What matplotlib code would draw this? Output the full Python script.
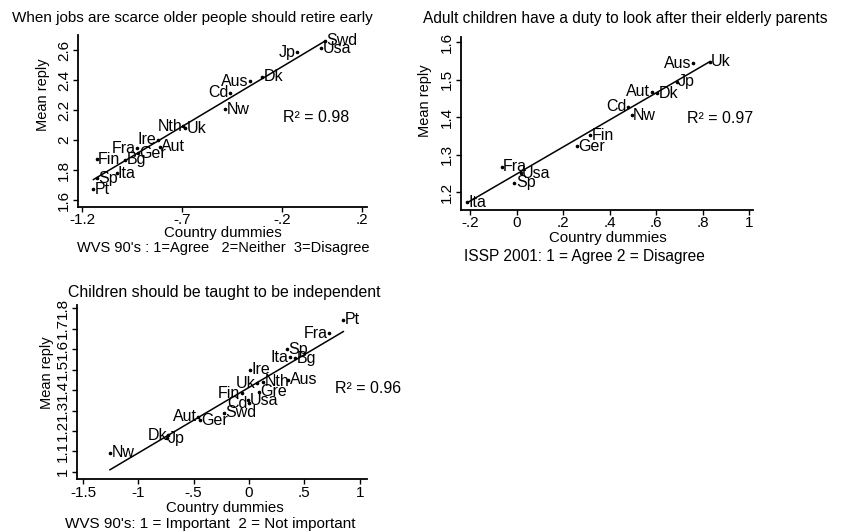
import numpy as np
import matplotlib
matplotlib.use("Agg")
import matplotlib.pyplot as plt

plt.rcParams['font.family'] = ['Liberation Sans', 'DejaVu Sans']

# Panel 1: WVS 90's, retire early
p1_names = ['Swd', 'Usa', 'Jp', 'Dk', 'Aus', 'Cd', 'Nw', 'Nth', 'Uk', 'Ire',
            'Aut', 'Ger', 'Fra', 'Fin', 'Bg', 'Ita', 'Sp', 'Pt']
p1_x = [0.015, -0.005, -0.127, -0.30, -0.36, -0.46, -0.485, -0.693, -0.683, -0.82,
        -0.81, -0.92, -0.925, -1.127, -0.985, -1.027, -1.127, -1.143]
p1_y = [2.66, 2.61, 2.585, 2.42, 2.39, 2.315, 2.205, 2.093, 2.078, 2.0,
        1.955, 1.91, 1.945, 1.871, 1.867, 1.778, 1.745, 1.671]
p1_left = {'Jp', 'Aus', 'Cd', 'Nth', 'Ire', 'Fra'}

# Panel 2: ISSP 2001, duty to parents
p2_names = ['Uk', 'Aus', 'Jp', 'Dk', 'Aut', 'Cd', 'Nw', 'Fin', 'Ger', 'Fra',
            'Usa', 'Sp', 'Ita']
p2_x = [0.831, 0.757, 0.688, 0.605, 0.58, 0.48, 0.495, 0.315, 0.258, -0.065,
        0.017, -0.01, -0.212]
p2_y = [1.548, 1.544, 1.495, 1.464, 1.468, 1.428, 1.406, 1.352, 1.323, 1.268,
        1.251, 1.226, 1.173]
p2_left = {'Aus', 'Aut', 'Cd'}

# Panel 3: WVS 90's, independence
p3_names = ['Pt', 'Fra', 'Sp', 'Ita', 'Bg', 'Ire', 'Uk', 'Nth', 'Aus', 'Fin',
            'Gre', 'Cd', 'Usa', 'Aut', 'Ger', 'Swd', 'Dk', 'Jp', 'Nw']
p3_x = [0.852, 0.725, 0.346, 0.37, 0.416, 0.009, 0.07, 0.13, 0.355, -0.066,
        0.093, 0.003, -0.006, -0.458, -0.443, -0.226, -0.729, -0.743, -1.256]
p3_y = [1.744, 1.678, 1.60, 1.561, 1.556, 1.499, 1.433, 1.441, 1.45, 1.384,
        1.392, 1.335, 1.35, 1.27, 1.253, 1.289, 1.18, 1.164, 1.093]
p3_left = {'Fra', 'Ita', 'Uk', 'Fin', 'Cd', 'Aut', 'Dk'}

W, H = 846, 532


def px(x, y):
    return x / W, 1 - y / H


def add_panel(rect, names, xs, ys, left, xlim, ylim, xticks, xlabels,
              yticks, ylabels, r2, r2_pos):
    l, t, r, b = rect
    ax = fig.add_axes([l / W, 1 - b / H, (r - l) / W, (b - t) / H])
    for s in ['top', 'right']:
        ax.spines[s].set_visible(False)
    for s in ['left', 'bottom']:
        ax.spines[s].set_linewidth(1.3)
    ax.set_xlim(*xlim)
    ax.set_ylim(*ylim)
    ax.set_xticks(xticks, xlabels)
    ax.set_yticks(yticks, ylabels)
    ax.tick_params(length=3.5, width=1, labelsize=11, pad=1)
    ax.tick_params(axis='y', labelrotation=90, pad=1.5)
    for lab in ax.get_yticklabels():
        lab.set_va('center')

    xs = np.array(xs)
    ys = np.array(ys)
    ax.plot(xs, ys, 'o', ms=1.6, color='black', clip_on=False)
    # least squares fit line over the data range
    k, c = np.polyfit(xs, ys, 1)
    fx = np.array([xs.min(), xs.max()])
    ax.plot(fx, k * fx + c, color='black', lw=1.1)

    for n, x, y in zip(names, xs, ys):
        if n in left:
            ax.annotate(n, (x, y), xytext=(-1, 0), textcoords='offset points',
                        ha='right', va='center', fontsize=11.5)
        else:
            ax.annotate(n, (x, y), xytext=(1, 0), textcoords='offset points',
                        ha='left', va='center', fontsize=11.5)
    ax.text(r2_pos[0], r2_pos[1], r2, fontsize=11.5, ha='left', va='center',
            clip_on=False)
    return ax


fig = plt.figure(figsize=(W / 100, H / 100), dpi=100)

add_panel((78, 35, 367, 207), p1_names, p1_x, p1_y, p1_left,
          (-1.22, 0.225), (1.553, 2.7),
          [-1.2, -0.7, -0.2, 0.2], ['-1.2', '-.7', '-.2', '.2'],
          [1.6, 1.8, 2.0, 2.2, 2.4, 2.6], ['1.6', '1.8', '2', '2.2', '2.4', '2.6'],
          'R² = 0.98', (-0.195, 2.147))

add_panel((460.7, 36.7, 753.3, 210), p2_names, p2_x, p2_y, p2_left,
          (-0.241, 1.018), (1.153, 1.615),
          [-0.2, 0, 0.2, 0.4, 0.6, 0.8, 1], ['-.2', '0', '.2', '.4', '.6', '.8', '1'],
          [1.2, 1.3, 1.4, 1.5, 1.6], ['1.2', '1.3', '1.4', '1.5', '1.6'],
          'R² = 0.97', (0.731, 1.398))

add_panel((77.3, 305, 366.7, 479.3), p3_names, p3_x, p3_y, p3_left,
          (-1.551, 1.063), (0.963, 1.817),
          [-1.5, -1, -0.5, 0, 0.5, 1], ['-1.5', '-1', '-.5', '0', '.5', '1'],
          [1.0, 1.1, 1.2, 1.3, 1.4, 1.5, 1.6, 1.7, 1.8],
          ['1', '1.1', '1.2', '1.3', '1.4', '1.5', '1.6', '1.7', '1.8'],
          'R² = 0.96', (0.777, 1.41))

# titles
fig.text(*px(12, 18), 'When jobs are scarce older people should retire early',
         fontsize=11, ha='left', va='center')
fig.text(*px(423, 18), 'Adult children have a duty to look after their elderly parents',
         fontsize=11.2, ha='left', va='center')
fig.text(*px(68, 293), 'Children should be taught to be independent',
         fontsize=11.4, ha='left', va='center')

# axis titles
for (x, y) in [(222.5, 233), (608, 238), (225, 508)]:
    fig.text(*px(x, y), 'Country dummies', fontsize=10.8, ha='center', va='center')
for (x, y) in [(43, 95), (425, 101), (47, 373)]:
    fig.text(*px(x, y), 'Mean reply', fontsize=10.5, ha='center', va='center',
             rotation=90)

fig.text(*px(223, 248), "WVS 90's : 1=Agree   2=Neither  3=Disagree",
         fontsize=10.5, ha='center', va='center')
fig.text(*px(584, 257), 'ISSP 2001: 1 = Agree 2 = Disagree',
         fontsize=11.2, ha='center', va='center')
fig.text(*px(210, 524), "WVS 90's: 1 = Important  2 = Not important",
         fontsize=11, ha='center', va='center')

fig.savefig('out.png', dpi=100)
